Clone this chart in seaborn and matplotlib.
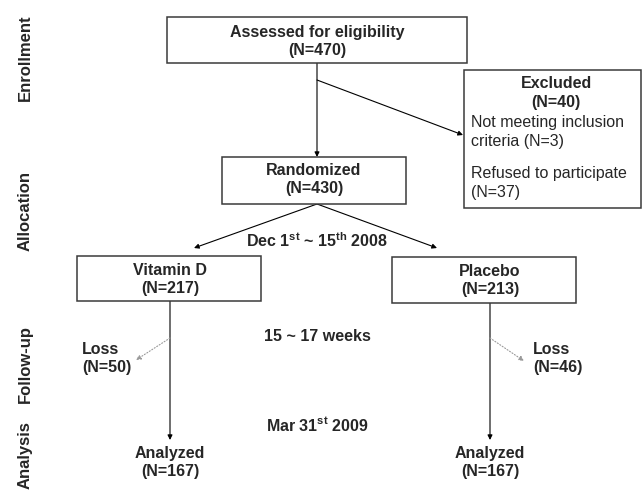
import matplotlib
matplotlib.use("Agg")
import matplotlib.pyplot as plt
import seaborn as sns
from matplotlib.patches import Rectangle

# Flow data
stages = ["Enrollment", "Allocation", "Follow-up", "Analysis"]
assessed_n = 470
excluded_n = 40
excluded_reasons = ["Not meeting inclusion\ncriteria", "Refused to participate\n"]
excluded_counts = [3, 37]
randomized_n = 430
arms = ["Vitamin D", "Placebo"]
arm_n = [217, 213]
loss_n = [50, 46]
analyzed_n = [167, 167]
periods = ["Dec 1$^{\\mathbf{st}}$ ~ 15$^{\\mathbf{th}}$ 2008", "15 ~ 17 weeks",
           "Mar 31$^{\\mathbf{st}}$ 2009"]

sns.set_theme(style="white")
plt.rcParams["font.family"] = ["Liberation Sans", "DejaVu Sans"]
plt.rcParams["mathtext.fontset"] = "custom"
plt.rcParams["mathtext.rm"] = "Liberation Sans:bold"
plt.rcParams["mathtext.bf"] = "Liberation Sans:bold"

fig = plt.figure(figsize=(6.42, 4.94), dpi=100)
ax = fig.add_axes([0, 0, 1, 1])
ax.set_xlim(0, 642)
ax.set_ylim(494, 0)
ax.axis("off")

FS = 11.5
EDGE = "#3a3a3a"


def box(x0, y0, x1, y1):
    ax.add_patch(Rectangle((x0, y0), x1 - x0, y1 - y0, facecolor="white",
                           edgecolor=EDGE, lw=1.1, zorder=2))


def label(x, y, title, n, ha="center"):
    ax.text(x, y, title, ha=ha, va="center", fontsize=FS, fontweight="bold", zorder=3)
    ax.text(x, y + 18.5, f"(N={n})", ha=ha, va="center", fontsize=FS,
            fontweight="bold", zorder=3)


def arrow(x0, y0, x1, y1, dotted=False):
    ax.annotate("", xy=(x1, y1), xytext=(x0, y0),
                arrowprops=dict(arrowstyle="-|>", color="#999999" if dotted else "black",
                                lw=0.8, ls=":" if dotted else "-",
                                mutation_scale=7, shrinkA=0, shrinkB=0), zorder=1)


# stage labels on the left
stage_y = [58, 211, 364, 455]
for s, y in zip(stages, stage_y):
    ax.text(25, y, s, rotation=90, ha="center", va="center", fontsize=12,
            fontweight="bold")

# enrollment
box(167, 17, 467, 63)
label(317, 32, "Assessed for eligibility", assessed_n)
arrow(317, 63, 317, 157)
arrow(317, 80, 463, 135)

box(464, 70, 641, 208)
label(556, 84, "Excluded", excluded_n)
ry = [122, 173]
for reason, c, y in zip(excluded_reasons, excluded_counts, ry):
    first, second = reason.split("\n")
    ax.text(471, y, first, ha="left", va="center", fontsize=11.5)
    ax.text(471, y + 19, (second + " " if second else "") + f"(N={c})",
            ha="left", va="center", fontsize=11.5)

# allocation
box(222, 157, 406, 204)
label(314, 170, "Randomized", randomized_n)
arrow(317, 204, 194, 248)
arrow(317, 204, 437, 248)

# periods
period_y = [241, 336, 425]
for p, y in zip(periods, period_y):
    ax.text(317, y, p, ha="center", va="center", fontsize=FS, fontweight="bold")

# arms
arm_box = [(77, 256, 261, 301), (392, 257, 576, 303)]
arm_x = [170, 490]
loss_end = [(136, 360), (524, 361)]
loss_txt = [(82, "left"), (533, "left")]
for i in range(2):
    x0, y0, x1, y1 = arm_box[i]
    box(x0, y0, x1, y1)
    label(arm_x[i], y0 + 14, arms[i], arm_n[i])
    arrow(arm_x[i], y1, arm_x[i], 440)
    arrow(arm_x[i], 338, *loss_end[i], dotted=True)
    tx, ha = loss_txt[i]
    label(tx, 349, "Loss", loss_n[i], ha=ha)
    label(arm_x[i], 453, "Analyzed", analyzed_n[i])

fig.savefig("out.png", dpi=100)
